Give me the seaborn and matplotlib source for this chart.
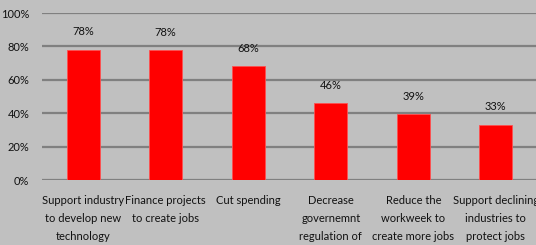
import matplotlib
matplotlib.use("Agg")
import matplotlib.pyplot as plt
import seaborn as sns
import pandas as pd

# %%
categories = [
    "Support industry\nto develop new\ntechnology",
    "Finance projects\nto create jobs",
    "Cut spending",
    "Decrease\ngovernemnt\nregulation of",
    "Reduce the\nworkweek to\ncreate more jobs",
    "Support declining\nindustries to\nprotect jobs",
]
support = [78, 77.6, 68, 46, 39.4, 33]
yticks = [0, 20, 40, 60, 80, 100]

df = pd.DataFrame({"category": categories, "support": support})

# %%
sns.set_style("white")
plt.rcParams["font.family"] = ["Lato", "DejaVu Sans"]

bg = "#c0c0c0"
fig = plt.figure(figsize=(5.36, 2.45), dpi=100, facecolor=bg)
ax = fig.add_axes([42 / 536, 1 - 180 / 245, 495 / 536, 167 / 245])
ax.set_facecolor(bg)

ax.yaxis.grid(True, color="#808080", linewidth=1.6)
ax.set_axisbelow(True)

sns.barplot(
    df,
    x="category",
    y="support",
    color="#ff0000",
    saturation=1,
    width=0.4,
    edgecolor="#ff5050",
    linewidth=0.6,
    ax=ax,
)

for i, v in enumerate(support):
    ax.annotate(
        f"{v:.0f}%",
        (i, v),
        xytext=(0, 9),
        textcoords="offset points",
        ha="center",
        va="bottom",
        fontsize=8,
        color="#111111",
    )

ax.set_ylim(0, 100)
ax.set_xlim(-0.5, len(categories) - 0.5)
ax.set_yticks(yticks)
ax.set_yticklabels([f"{t}%" for t in yticks])
ax.tick_params(axis="both", length=0, labelsize=8, colors="#111111")
ax.tick_params(axis="y", pad=9)
ax.tick_params(axis="x", pad=11)
for label in ax.get_xticklabels():
    label.set_linespacing(1.75)
    label.set_verticalalignment("top")

ax.set_xlabel("")
ax.set_ylabel("")
sns.despine(ax=ax, left=True, bottom=True, top=True, right=True)

fig.savefig("out.png", dpi=100, facecolor=bg)
